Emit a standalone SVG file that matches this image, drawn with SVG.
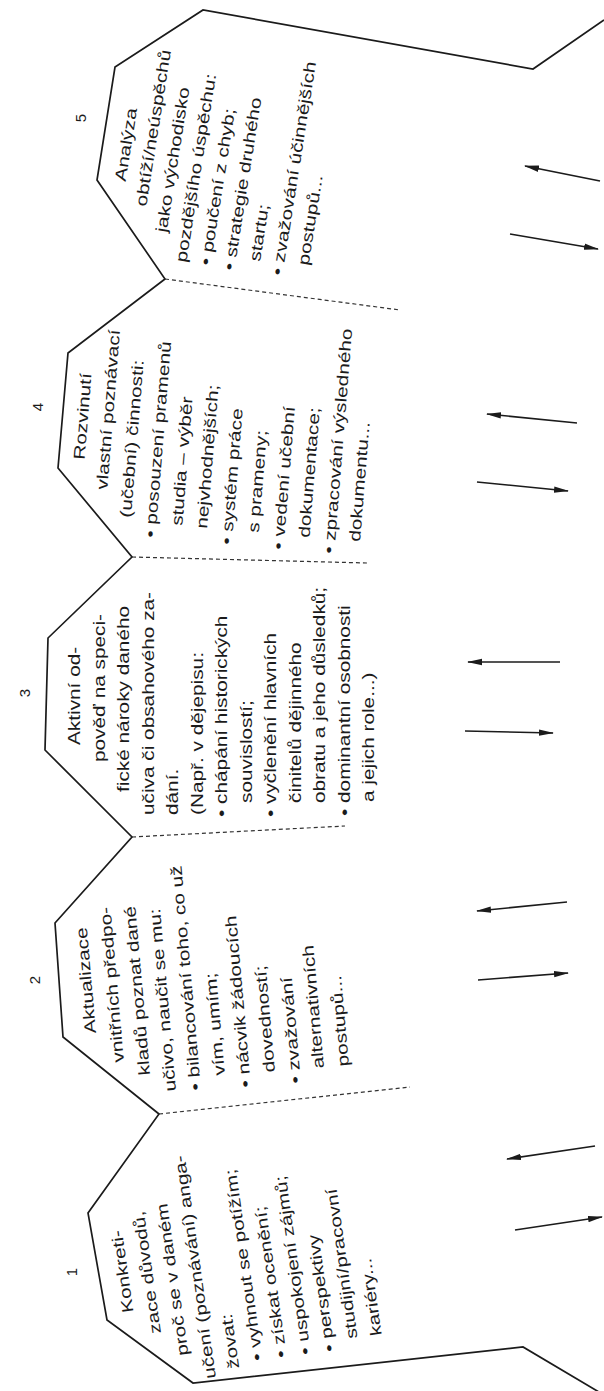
<svg xmlns="http://www.w3.org/2000/svg" width="604" height="1391" viewBox="0 0 604 1391">
<style>
.t{font-family:"Liberation Sans",Arial,sans-serif;font-size:16px;fill:#1b1b1b}
.n{font-family:"Liberation Sans",Arial,sans-serif;font-size:15px;fill:#1b1b1b}
.o{fill:none;stroke:#1b1b1b;stroke-width:1.7;stroke-linejoin:miter}
.d{fill:none;stroke:#333;stroke-width:1.2;stroke-dasharray:4 3}
.a{fill:none;stroke:#1b1b1b;stroke-width:1.6}
</style>
<defs>
<marker id="ah" markerUnits="userSpaceOnUse" markerWidth="15" markerHeight="8" refX="14" refY="4" orient="auto">
<path d="M0,0.8 L15,4 L0,7.2 z" fill="#1b1b1b"/>
</marker>
</defs>
<rect width="604" height="1391" fill="#fff"/>
<g id="outline">
<polyline class="o" points="604,20 533,69 203,10 115,67 97,180 165,279 68,353 58,468 132,557 48,638 45,750 132,837 55,923 63,1037 159,1114 88,1213 107,1320 193,1383 523,1347 604,1395"/>
<line class="d" x1="165" y1="279" x2="400" y2="310"/>
<line class="d" x1="132" y1="557" x2="367" y2="563"/>
<line class="d" x1="132" y1="837" x2="345" y2="826"/>
<line class="d" x1="159" y1="1114" x2="410" y2="1087"/>
</g>
<g id="panel5">
<text class="n" transform="translate(86,118) rotate(-90)" text-anchor="middle">5</text>
<text class="t" transform="translate(125.6,182) rotate(-81) scale(1.3,1)">Analýza</text>
<text class="t" transform="translate(146.2,207) rotate(-81) scale(1.3,1)">obtíží/neúspěchů</text>
<text class="t" transform="translate(166.6,233) rotate(-81) scale(1.3,1)">jako východisko</text>
<text class="t" transform="translate(186.3,263) rotate(-81) scale(1.3,1)">pozdějšího úspěchu:</text>
<text class="t" transform="translate(210.4,266) rotate(-81) scale(1.3,1)">• poučení z chyb;</text>
<text class="t" transform="translate(234.1,271) rotate(-81) scale(1.3,1)">• strategie druhého</text>
<text class="t" transform="translate(260,262) rotate(-81) scale(1.3,1)">startu;</text>
<text class="t" transform="translate(282.3,276) rotate(-81) scale(1.3,1)">• zvažování účinnějších</text>
<text class="t" transform="translate(308.4,266) rotate(-81) scale(1.3,1)">postupů...</text>
</g>
<g id="panel4">
<text class="n" transform="translate(43,407) rotate(-90)" text-anchor="middle">4</text>
<text class="t" transform="translate(84.6,460) rotate(-85.4) scale(1.3,1)">Rozvinutí</text>
<text class="t" transform="translate(107.2,490) rotate(-85.4) scale(1.3,1)">vlastní poznávací</text>
<text class="t" transform="translate(131,518) rotate(-85.4) scale(1.3,1)">(učební) činnosti:</text>
<text class="t" transform="translate(155.4,538) rotate(-85.4) scale(1.3,1)">• posouzení pramenů</text>
<text class="t" transform="translate(182.3,526) rotate(-85.4) scale(1.3,1)">studia – výběr</text>
<text class="t" transform="translate(207.1,529) rotate(-85.4) scale(1.3,1)">nejvhodnějších;</text>
<text class="t" transform="translate(231.8,545) rotate(-85.4) scale(1.3,1)">• systém práce</text>
<text class="t" transform="translate(258.8,533) rotate(-85.4) scale(1.3,1)">s prameny;</text>
<text class="t" transform="translate(283.4,550) rotate(-85.4) scale(1.3,1)">• vedení učební</text>
<text class="t" transform="translate(309.4,538) rotate(-85.4) scale(1.3,1)">dokumentace;</text>
<text class="t" transform="translate(334.1,554) rotate(-85.4) scale(1.3,1)">• zpracování výsledného</text>
<text class="t" transform="translate(360,542) rotate(-85.4) scale(1.3,1)">dokumentu...</text>
</g>
<g id="panel3">
<text class="n" transform="translate(30,693) rotate(-90)" text-anchor="middle">3</text>
<text class="t" transform="translate(80,745) rotate(-90) scale(1.3,1)">Aktivní od-</text>
<text class="t" transform="translate(104.5,762) rotate(-90) scale(1.3,1)">pověď na speci-</text>
<text class="t" transform="translate(129,792) rotate(-90) scale(1.3,1)">fické nároky daného</text>
<text class="t" transform="translate(153.5,815) rotate(-90) scale(1.3,1)">učiva či obsahového za-</text>
<text class="t" transform="translate(178,815) rotate(-90) scale(1.3,1)">dání.</text>
<text class="t" transform="translate(202.5,815) rotate(-90) scale(1.3,1)">(Např. v dějepisu:</text>
<text class="t" transform="translate(227,817) rotate(-90) scale(1.3,1)">• chápání historických</text>
<text class="t" transform="translate(251.5,803) rotate(-90) scale(1.3,1)">souvislostí;</text>
<text class="t" transform="translate(276,817) rotate(-90) scale(1.3,1)">• vyčlenění hlavních</text>
<text class="t" transform="translate(300.5,803) rotate(-90) scale(1.3,1)">činitelů dějinného</text>
<text class="t" transform="translate(325,803) rotate(-90) scale(1.3,1)">obratu a jeho důsledků;</text>
<text class="t" transform="translate(349.5,816) rotate(-90) scale(1.3,1)">• dominantní osobnosti</text>
<text class="t" transform="translate(374,802) rotate(-90) scale(1.3,1)">a jejich role...)</text>
</g>
<g id="panel2">
<text class="n" transform="translate(40,980) rotate(-90)" text-anchor="middle">2</text>
<text class="t" transform="translate(96,1033) rotate(-95) scale(1.3,1)">Aktualizace</text>
<text class="t" transform="translate(124,1062) rotate(-95) scale(1.3,1)">vnitřních předpo-</text>
<text class="t" transform="translate(150,1075) rotate(-95) scale(1.3,1)">kladů poznat dané</text>
<text class="t" transform="translate(176,1091) rotate(-95) scale(1.3,1)">učivo, naučit se mu:</text>
<text class="t" transform="translate(201,1090) rotate(-95) scale(1.3,1)">• bilancování toho, co už</text>
<text class="t" transform="translate(225,1075) rotate(-95) scale(1.3,1)">vím, umím;</text>
<text class="t" transform="translate(251,1087) rotate(-95) scale(1.3,1)">• nácvik žádoucích</text>
<text class="t" transform="translate(275,1072) rotate(-95) scale(1.3,1)">dovedností;</text>
<text class="t" transform="translate(301,1083) rotate(-95) scale(1.3,1)">• zvažování</text>
<text class="t" transform="translate(324,1068) rotate(-95) scale(1.3,1)">alternativních</text>
<text class="t" transform="translate(349,1066) rotate(-95) scale(1.3,1)">postupů...</text>
</g>
<g id="panel1">
<text class="n" transform="translate(77,1272) rotate(-90)" text-anchor="middle">1</text>
<text class="t" transform="translate(133.5,1312) rotate(-98) scale(1.3,1)">Konkreti-</text>
<text class="t" transform="translate(161,1333) rotate(-98) scale(1.3,1)">zace důvodů,</text>
<text class="t" transform="translate(188.5,1355) rotate(-98) scale(1.3,1)">proč se v daném</text>
<text class="t" transform="translate(216,1378) rotate(-98) scale(1.3,1)">učení (poznávání) anga-</text>
<text class="t" transform="translate(239.3,1368) rotate(-98) scale(1.3,1)">žovat:</text>
<text class="t" transform="translate(262.7,1360) rotate(-98) scale(1.3,1)">• vyhnout se potížím;</text>
<text class="t" transform="translate(286.8,1357) rotate(-98) scale(1.3,1)">• získat ocenění;</text>
<text class="t" transform="translate(310.9,1354) rotate(-98) scale(1.3,1)">• uspokojení zájmů;</text>
<text class="t" transform="translate(334.9,1351) rotate(-98) scale(1.3,1)">• perspektivy</text>
<text class="t" transform="translate(357.6,1338) rotate(-98) scale(1.3,1)">studijní/pracovní</text>
<text class="t" transform="translate(381.7,1335) rotate(-98) scale(1.3,1)">kariéry...</text>
</g>
<g id="connectors">
<line class="a" x1="600" y1="181" x2="525" y2="166" marker-end="url(#ah)"/>
<line class="a" x1="510" y1="234" x2="598" y2="249" marker-end="url(#ah)"/>
<line class="a" x1="577" y1="423" x2="487" y2="414" marker-end="url(#ah)"/>
<line class="a" x1="477" y1="482" x2="568" y2="491" marker-end="url(#ah)"/>
<line class="a" x1="560" y1="662" x2="468" y2="662" marker-end="url(#ah)"/>
<line class="a" x1="465" y1="731" x2="553" y2="733" marker-end="url(#ah)"/>
<line class="a" x1="567" y1="902" x2="477" y2="911" marker-end="url(#ah)"/>
<line class="a" x1="478" y1="980" x2="568" y2="973" marker-end="url(#ah)"/>
<line class="a" x1="595" y1="1146" x2="507" y2="1159" marker-end="url(#ah)"/>
<line class="a" x1="515" y1="1230" x2="602" y2="1217" marker-end="url(#ah)"/>
</g>
</svg>
